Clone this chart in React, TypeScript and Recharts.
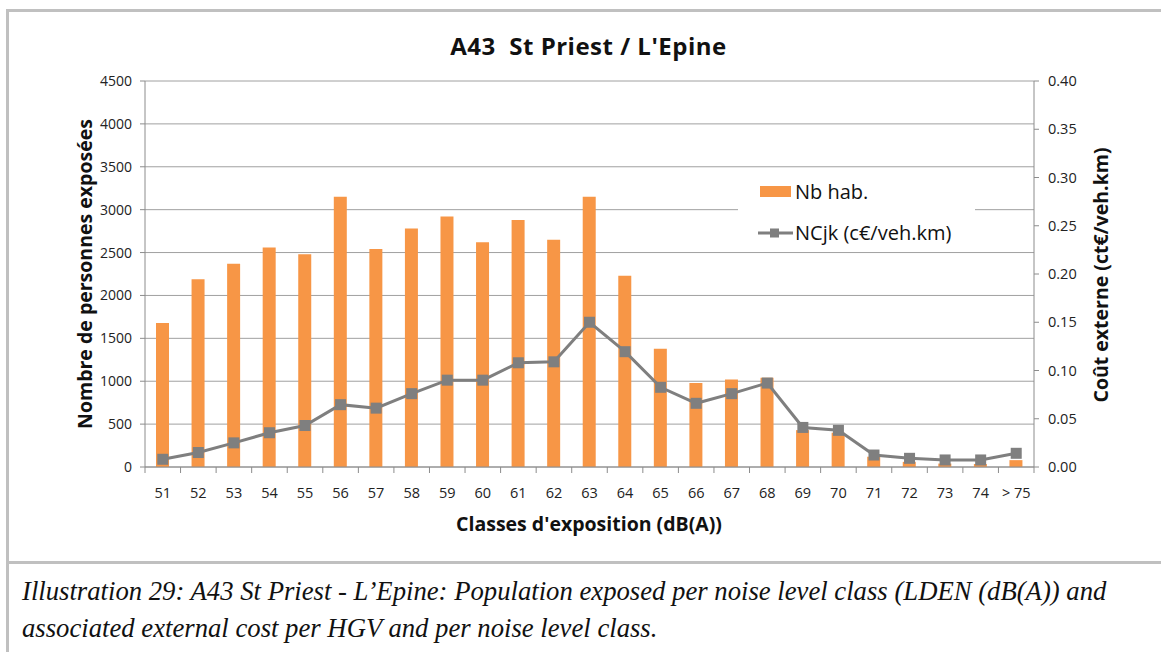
import React from 'react';
import {
  ComposedChart,
  Bar,
  Line,
  XAxis,
  YAxis,
  CartesianGrid,
  Legend
} from 'recharts';

// exposure classes, dB(A)
const classes = [
  '51', '52', '53', '54', '55', '56', '57', '58', '59', '60', '61', '62', '63',
  '64', '65', '66', '67', '68', '69', '70', '71', '72', '73', '74', '> 75'
];

// Nb hab. (left axis)
const habitants = [
  1680, 2190, 2370, 2560, 2480, 3150, 2540, 2780, 2920, 2620, 2880, 2650, 3150,
  2230, 1380, 980, 1020, 1040, 430, 400, 120, 60, 40, 35, 80
];

// NCjk c€/veh.km (right axis)
const ncjk = [
  0.008, 0.015, 0.025, 0.0355, 0.043, 0.0646, 0.061, 0.076, 0.09, 0.09, 0.108,
  0.109, 0.15, 0.1195, 0.0826, 0.066, 0.076, 0.087, 0.041, 0.038, 0.0124,
  0.009, 0.0073, 0.0073, 0.0142
];

const leftTicks = [0, 500, 1000, 1500, 2000, 2500, 3000, 3500, 4000, 4500];
const rightTicks = [0, 0.05, 0.1, 0.15, 0.2, 0.25, 0.3, 0.35, 0.4];

const data = classes.map((c, i) => ({ cls: c, hab: habitants[i], ncjk: ncjk[i] }));

const ORANGE = '#F79646';
const GREY = '#7f7f7f';
const AXIS = '#8c8c8c';
const FONT = '"Open Sans", sans-serif';

const ClassTick = (props: any) => {
  const { x, y, payload, index, width } = props;
  const step = (width || 889) / classes.length;
  const last = index === classes.length - 1;
  return (
    <g>
      <line x1={x - step / 2} y1={y} x2={x - step / 2} y2={y + 6} stroke={AXIS} />
      {last && <line x1={x + step / 2} y1={y} x2={x + step / 2} y2={y + 6} stroke={AXIS} />}
      <text x={x} y={y + 31} textAnchor="middle" fontSize={14.5} fill="#222" fontFamily={FONT}>
        {payload.value}
      </text>
    </g>
  );
};

const SquareDot = (props: any) => {
  const { cx, cy } = props;
  if (cx == null || cy == null) return null;
  return <rect x={cx - 5.5} y={cy - 5.5} width={11} height={11} fill={GREY} />;
};

const LegendBox = () => (
  <div
    style={{
      background: '#fff',
      width: 237,
      height: 76,
      fontFamily: FONT,
      fontSize: 20,
      color: '#111',
      position: 'relative'
    }}
  >
    <div style={{ position: 'absolute', left: 22, top: 6, display: 'flex', alignItems: 'center' }}>
      <span style={{ width: 31, height: 11, background: ORANGE, display: 'inline-block', marginRight: 4 }} />
      <span>Nb hab.</span>
    </div>
    <div style={{ position: 'absolute', left: 20, top: 47, display: 'flex', alignItems: 'center' }}>
      <svg width={35} height={12} style={{ marginRight: 2 }}>
        <line x1={0} y1={6} x2={35} y2={6} stroke={GREY} strokeWidth={3} />
        <rect x={12} y={1.5} width={9} height={9} fill={GREY} />
      </svg>
      <span>NCjk (c€/veh.km)</span>
    </div>
  </div>
);

const axisTitle: React.CSSProperties = {
  position: 'absolute',
  fontFamily: FONT,
  fontWeight: 700,
  fontSize: 19.5,
  color: '#111',
  whiteSpace: 'nowrap'
};

export default function App() {
  return (
    <div style={{ position: 'absolute', left: 0, top: 0, width: 1161, height: 652, background: '#fff', overflow: 'hidden' }}>
      {/* frame */}
      <div style={{ position: 'absolute', left: 6, top: 9, width: 1160, height: 3, background: '#c0c0c0' }} />
      <div style={{ position: 'absolute', left: 6, top: 9, width: 3, height: 650, background: '#c0c0c0' }} />
      <div style={{ position: 'absolute', left: 6, top: 561, width: 1160, height: 3, background: '#c0c0c0' }} />

      <div style={{ position: 'absolute', left: 0, top: 0 }}>
        <ComposedChart
          width={1161}
          height={560}
          data={data}
          margin={{ top: 81, right: 0, left: 0, bottom: 53 }}
        >
          <CartesianGrid yAxisId="left" vertical={false} stroke="#a0a0a0" />
          <XAxis
            dataKey="cls"
            type="category"
            height={40}
            axisLine={{ stroke: AXIS }}
            tickLine={false}
            tickSize={0}
            tickMargin={0}
            interval={0}
            tick={<ClassTick />}
          />
          <YAxis
            yAxisId="left"
            width={145}
            domain={[0, 4500]}
            ticks={leftTicks}
            interval={0}
            axisLine={{ stroke: AXIS }}
            tickLine={{ stroke: AXIS }}
            tickSize={5}
            tickMargin={8}
            tick={{ fontSize: 14, fill: '#222', fontFamily: FONT }}
          />
          <YAxis
            yAxisId="right"
            orientation="right"
            width={127}
            domain={[0, 0.4]}
            ticks={rightTicks}
            interval={0}
            axisLine={{ stroke: AXIS }}
            tickLine={{ stroke: AXIS }}
            tickSize={5}
            tickMargin={9}
            tickFormatter={(v: number) => v.toFixed(2)}
            tick={{ fontSize: 14.5, fill: '#222', fontFamily: FONT }}
          />
          <Bar yAxisId="left" dataKey="hab" name="Nb hab." fill={ORANGE} barSize={13} isAnimationActive={false} />
          <Line
            yAxisId="right"
            type="linear"
            dataKey="ncjk"
            name="NCjk (c€/veh.km)"
            stroke={GREY}
            strokeWidth={3}
            dot={<SquareDot />}
            activeDot={false}
            isAnimationActive={false}
          />
          <Legend
            layout="vertical"
            align="center"
            verticalAlign="middle"
            content={<LegendBox />}
            wrapperStyle={{ position: 'absolute', left: 738, top: 172, width: 237, height: 76 }}
          />
        </ComposedChart>
      </div>

      {/* titles */}
      <div
        style={{
          position: 'absolute', left: 8, width: 1161, top: 45, transform: 'translateY(-50%)', textAlign: 'center',
          fontFamily: FONT, fontWeight: 700, fontSize: 24, letterSpacing: 0.5, color: '#111', whiteSpace: 'pre'
        }}
      >
        {'A43  St Priest / L\'Epine'}
      </div>
      <div style={{ ...axisTitle, left: 84, top: 274, transform: 'translate(-50%, -50%) rotate(-90deg)' }}>
        Nombre de personnes exposées
      </div>
      <div style={{ ...axisTitle, left: 1100, top: 275, transform: 'translate(-50%, -50%) rotate(-90deg)' }}>
        Coût externe (ct€/veh.km)
      </div>
      <div style={{ ...axisTitle, left: 589, top: 523, transform: 'translate(-50%, -50%)' }}>
        Classes d'exposition (dB(A))
      </div>

      {/* caption */}
      <div
        style={{
          position: 'absolute', left: 22, top: 573, width: 1135,
          fontFamily: '"Liberation Serif", serif', fontStyle: 'italic', fontSize: 26.7,
          lineHeight: '37px', color: '#111'
        }}
      >
        Illustration 29: A43 St Priest - L’Epine: Population exposed per noise level class (LDEN (dB(A)) and
        associated external cost per HGV and per noise level class.
      </div>
    </div>
  );
}
